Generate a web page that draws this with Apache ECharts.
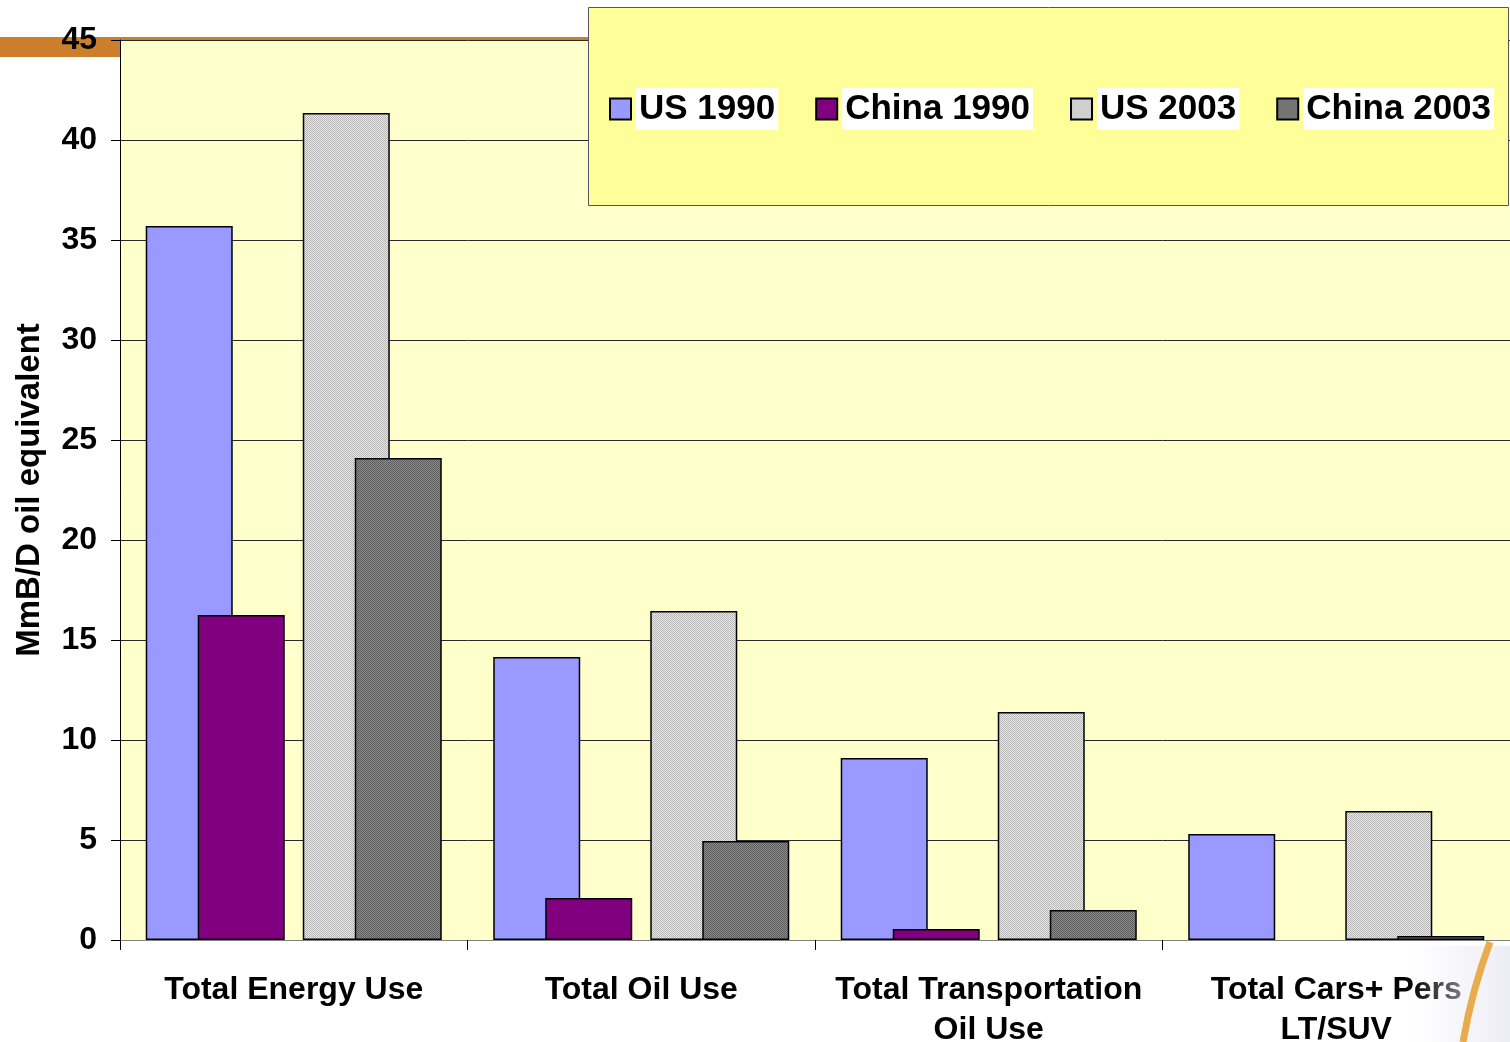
<!DOCTYPE html>
<html>
<head>
<meta charset="utf-8">
<title>US and China oil use, 1990 and 2003</title>
<script src="https://cdn.jsdelivr.net/npm/echarts@6/dist/echarts.min.js"></script>
<style>
  html, body { margin: 0; padding: 0; background: #ffffff; }
  #chart { width: 1510px; height: 1042px; }
</style>
</head>
<body>
<div id="chart"></div>
<script>
// Categories along the x axis
const categories = [
  'Total Energy Use',
  'Total Oil Use',
  'Total Transportation\nOil Use',
  'Total Cars+ Pers\nLT/SUV'
];

// Values in MmB/D oil equivalent
const us1990    = [35.7, 14.15, 9.1, 5.3];
const china1990 = [16.25, 2.1, 0.55, 0];
const us2003    = [41.35, 16.45, 11.4, 6.45];
const china2003 = [24.1, 4.95, 1.5, 0.2];

// Y axis scale
const yMin = 0;
const yMax = 45;
const yStep = 5;

const FONT = '"Liberation Sans", Arial, Helvetica, sans-serif';

// Small checker textures for the 2003 bars
function checker(a, b) {
  const c = document.createElement('canvas');
  c.width = 2; c.height = 2;
  const g = c.getContext('2d');
  g.fillStyle = a; g.fillRect(0, 0, 2, 2);
  g.fillStyle = b; g.fillRect(0, 0, 1, 1); g.fillRect(1, 1, 1, 1);
  return { image: c, repeat: 'repeat' };
}
const lightPattern = checker('#e6e6e6', '#b8b8b8');
const darkPattern  = checker('#8a8a8a', '#5e5e5e');

// zero values get no outline, so nothing shows on the axis
const barData = (values) => values.map(v => v === 0 ? { value: v, itemStyle: { borderWidth: 0 } } : v);

const chart = echarts.init(document.getElementById('chart'), null, { renderer: 'canvas' });

const plotLeft = 120, plotTop = 40, plotBottom = 102;
const pairShift = 26;      // US and China pairs sit side by side, overlapping
const barW = 87;

const barBorder = { borderColor: '#000', borderWidth: 1.5 };

const hiddenX = (gi) => ({ type: 'category', gridIndex: gi, data: categories, show: false });
const hiddenY = (gi) => ({ type: 'value', gridIndex: gi, min: yMin, max: yMax, show: false });

chart.setOption({
  animation: false,
  backgroundColor: '#ffffff',
  textStyle: { fontFamily: FONT },
  graphic: [
    // orange strip at the top left
    { type: 'rect', shape: { x: 0, y: 37, width: 120, height: 20 }, style: { fill: '#cc7f2a' }, z: -1 },
    { type: 'rect', shape: { x: 120, y: 37, width: 468, height: 3 }, style: { fill: '#cc7f2a' }, z: -1 },
    // legend panel
    { type: 'rect', shape: { x: 588.5, y: 7.5, width: 920, height: 198 },
      style: { fill: '#ffff99', stroke: '#555', lineWidth: 1 }, z: 3 },
    // faded corner with the orange swoosh
    { type: 'rect', shape: { x: 1410, y: 946, width: 100, height: 96 },
      style: { fill: new echarts.graphic.LinearGradient(0, 0, 1, 0, [
        { offset: 0, color: 'rgba(240,240,246,0)' },
        { offset: 1, color: 'rgba(236,236,244,1)' }
      ]) }, z: 1 },
    { type: 'bezierCurve',
      shape: { x1: 1490, y1: 942, x2: 1463, y2: 1042, cpx1: 1472, cpy1: 990 },
      style: { fill: null, stroke: '#e8a43a', lineWidth: 7, opacity: 0.9 }, z: 2 }
  ],
  legend: {
    data: ['US 1990', 'China 1990', 'US 2003', 'China 2003'],
    left: 609,
    top: 88,
    padding: 0,
    icon: 'rect',
    itemWidth: 21,
    itemHeight: 21,
    itemGap: 37,
    selectedMode: false,
    z: 5,
    textStyle: {
      fontFamily: FONT,
      fontSize: 35,
      fontWeight: 'bold',
      color: '#000',
      backgroundColor: '#ffffff',
      padding: [4, 3, 4, 3],
      lineHeight: 34
    }
  },
  grid: [
    { left: plotLeft, top: plotTop, right: 0, bottom: plotBottom, outerBoundsMode: 'none', containLabel: false,
      show: true, backgroundColor: '#ffffcc', borderWidth: 0 },
    { left: plotLeft - pairShift, top: plotTop, right: pairShift, bottom: plotBottom,
      outerBoundsMode: 'none', containLabel: false },
    { left: plotLeft + pairShift, top: plotTop, right: -pairShift, bottom: plotBottom,
      outerBoundsMode: 'none', containLabel: false }
  ],
  xAxis: [
    {
      type: 'category', gridIndex: 0, data: categories,
      axisLine: { lineStyle: { color: '#808080', width: 1 } },
      axisTick: { show: true, length: 10, lineStyle: { color: '#000' } },
      axisLabel: {
        interval: 0, margin: 30, color: '#000',
        fontFamily: FONT, fontSize: 32, fontWeight: 'bold', lineHeight: 40
      }
    },
    hiddenX(1),
    hiddenX(2)
  ],
  yAxis: [
    {
      type: 'value', gridIndex: 0, min: yMin, max: yMax, interval: yStep,
      name: 'MmB/D oil equivalent',
      nameLocation: 'middle',
      nameGap: 74,
      nameRotate: 90,
      nameTextStyle: { fontFamily: FONT, fontSize: 33, fontWeight: 'bold', color: '#000' },
      axisLine: { show: true, lineStyle: { color: '#000', width: 1 } },
      axisTick: { show: true, length: 9, lineStyle: { color: '#000' } },
      axisLabel: { margin: 23, color: '#000', fontFamily: FONT, fontSize: 32, fontWeight: 'bold' },
      splitLine: { show: true, lineStyle: { color: '#2a2a2a', width: 1 } }
    },
    hiddenY(1),
    hiddenY(2)
  ],
  series: [
    { name: 'US 1990', type: 'bar', xAxisIndex: 1, yAxisIndex: 1, data: barData(us1990),
      barWidth: barW, barGap: '80.5%', itemStyle: Object.assign({ color: '#9999ff' }, barBorder) },
    { name: 'US 2003', type: 'bar', xAxisIndex: 1, yAxisIndex: 1, data: barData(us2003),
      barWidth: barW, barGap: '80.5%', itemStyle: Object.assign({ color: lightPattern }, barBorder) },
    { name: 'China 1990', type: 'bar', xAxisIndex: 2, yAxisIndex: 2, data: barData(china1990),
      barWidth: barW, barGap: '80.5%', itemStyle: Object.assign({ color: '#800080' }, barBorder) },
    { name: 'China 2003', type: 'bar', xAxisIndex: 2, yAxisIndex: 2, data: barData(china2003),
      barWidth: barW, barGap: '80.5%', itemStyle: Object.assign({ color: darkPattern }, barBorder) }
  ]
});
</script>
</body>
</html>
